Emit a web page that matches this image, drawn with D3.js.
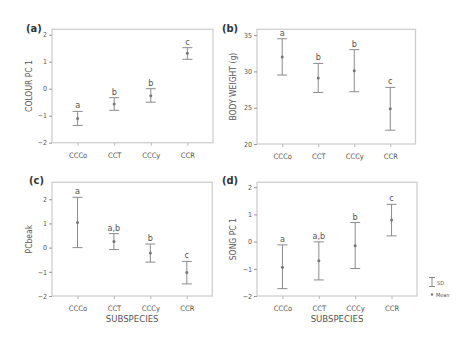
<!DOCTYPE html>
<html><head><meta charset="utf-8">
<script src="https://cdn.jsdelivr.net/npm/d3@7"></script>
<style>body{margin:0;background:#fff}svg{display:block}text{font-family:"DejaVu Sans Condensed","Liberation Sans Narrow","Liberation Sans",sans-serif;fill:#555}</style>
</head><body><svg id="c" width="468" height="340"></svg>
<script>
const categories = ["CCCo","CCT","CCCy","CCR"];
const colourMean = [-1.10,-0.57,-0.26,1.31];
const colourUpper = [-0.84,-0.33,0.00,1.52];
const colourLower = [-1.36,-0.80,-0.50,1.09];
const colourLetters = ["a","b","b","c"];
const weightMean = [32.0,29.1,30.1,24.85];
const weightUpper = [34.5,31.1,33.0,27.8];
const weightLower = [29.5,27.1,27.2,21.9];
const weightLetters = ["a","b","b","c"];
const beakMean = [1.04,0.25,-0.22,-1.03];
const beakUpper = [2.08,0.58,0.15,-0.57];
const beakLower = [0.00,-0.08,-0.60,-1.50];
const beakLetters = ["a","a,b","b","c"];
const songMean = [-0.94,-0.70,-0.15,0.79];
const songUpper = [-0.12,-0.01,0.70,1.37];
const songLower = [-1.73,-1.41,-0.99,0.21];
const songLetters = ["a","a,b","b","c"];
const colourTicks = [-2,-1,0,1,2];
const weightTicks = [20,25,30,35];
const beakTicks = [-2,-1,0,1,2];
const songTicks = [-2,-1,0,1,2];

const svg = d3.select("#c");
const panels = [
 {lab:"(a)", title:"COLOUR PC 1", mean:colourMean, up:colourUpper, lo:colourLower, letters:colourLetters, ticks:colourTicks, dom:[-2,2.2], box:[52,213,29.3,142.7], labPos:[26,32], titleX:32, xlabel:false},
 {lab:"(b)", title:"BODY WEIGHT (g)", mean:weightMean, up:weightUpper, lo:weightLower, letters:weightLetters, ticks:weightTicks, dom:[20,35.8], box:[257,415.5,29.3,144], labPos:[222,32], titleX:236, xlabel:false},
 {lab:"(c)", title:"PCbeak", mean:beakMean, up:beakUpper, lo:beakLower, letters:beakLetters, ticks:beakTicks, dom:[-2,2.7], box:[52,212.3,182.3,296], labPos:[29,184], titleX:32, xlabel:true},
 {lab:"(d)", title:"SONG PC 1", mean:songMean, up:songUpper, lo:songLower, letters:songLetters, ticks:songTicks, dom:[-2,2.18], box:[257,417,182.3,296], labPos:[222,184], titleX:236, xlabel:true}
];
const barCol="#8c8c8c", boxCol="#cfcfcf";
panels.forEach(p=>{
  const [x0,x1,y0,y1]=p.box;
  const x=d3.scalePoint().domain(categories).range([x0,x1]).padding(0.7);
  const y=d3.scaleLinear().domain(p.dom).range([y1,y0]);
  const g=svg.append("g");
  g.append("rect").attr("x",x0).attr("y",y0).attr("width",x1-x0).attr("height",y1-y0)
   .attr("fill","none").attr("stroke",boxCol).attr("stroke-width",1.3);
  const ya=g.append("g").attr("transform",`translate(${x0},0)`)
   .call(d3.axisLeft(y).tickValues(p.ticks).tickSize(3).tickPadding(2).tickFormat(d=>d<0?"\u2212"+Math.abs(d):d));
  ya.select(".domain").remove();
  ya.selectAll("line").attr("stroke","#999");
  ya.selectAll("text").style("font-size","7px").attr("fill","#555");
  const xa=g.append("g").attr("transform",`translate(0,${y1})`)
   .call(d3.axisBottom(x).tickSize(3).tickPadding(7));
  xa.select(".domain").remove();
  xa.selectAll("line").attr("stroke","#bbb");
  xa.selectAll("text").style("font-size","7.5px").attr("fill","#555");
  const idx=d3.range(categories.length);
  g.selectAll(".eb").data(idx).join("line").attr("x1",i=>x(categories[i])).attr("x2",i=>x(categories[i]))
   .attr("y1",i=>y(p.up[i])).attr("y2",i=>y(p.lo[i])).attr("stroke",barCol).attr("stroke-width",1);
  ["up","lo"].forEach(k=>{
    g.selectAll(".cap"+k).data(idx).join("line").attr("x1",i=>x(categories[i])-5).attr("x2",i=>x(categories[i])+5)
     .attr("y1",i=>y(p[k][i])).attr("y2",i=>y(p[k][i])).attr("stroke",barCol).attr("stroke-width",1);
  });
  g.selectAll(".m").data(idx).join("circle").attr("cx",i=>x(categories[i])).attr("cy",i=>y(p.mean[i]))
   .attr("r",1.5).attr("fill","#777");
  g.selectAll(".lt").data(idx).join("text").attr("x",i=>x(categories[i])).attr("y",i=>y(p.up[i])-3)
   .attr("text-anchor","middle").style("font-size","9px").text(i=>p.letters[i]);
  g.append("text").attr("transform",`translate(${p.titleX},${(y0+y1)/2}) rotate(-90)`)
   .attr("text-anchor","middle").style("font-size","8.5px").text(p.title);
  g.append("text").attr("x",p.labPos[0]).attr("y",p.labPos[1]).style("font-size","11px")
   .style("font-weight","bold").style("fill","#333").text(p.lab);
  if(p.xlabel){
    g.append("text").attr("x",(x0+x1)/2).attr("y",321.5).attr("text-anchor","middle")
     .style("font-size","9.5px").text("SUBSPECIES");
  }
});
// legend
const lg=svg.append("g");
lg.append("line").attr("x1",432).attr("x2",432).attr("y1",277.5).attr("y2",286.5).attr("stroke",barCol);
lg.append("line").attr("x1",429).attr("x2",435).attr("y1",277.5).attr("y2",277.5).attr("stroke",barCol);
lg.append("line").attr("x1",429).attr("x2",435).attr("y1",286.5).attr("y2",286.5).attr("stroke",barCol);
lg.append("text").attr("x",437).attr("y",284.5).style("font-size","5.5px").text("SD");
lg.append("circle").attr("cx",432).attr("cy",294.5).attr("r",1.2).attr("fill","#777");
lg.append("text").attr("x",436).attr("y",296.5).style("font-size","5.5px").text("Mean");
</script></body></html>
